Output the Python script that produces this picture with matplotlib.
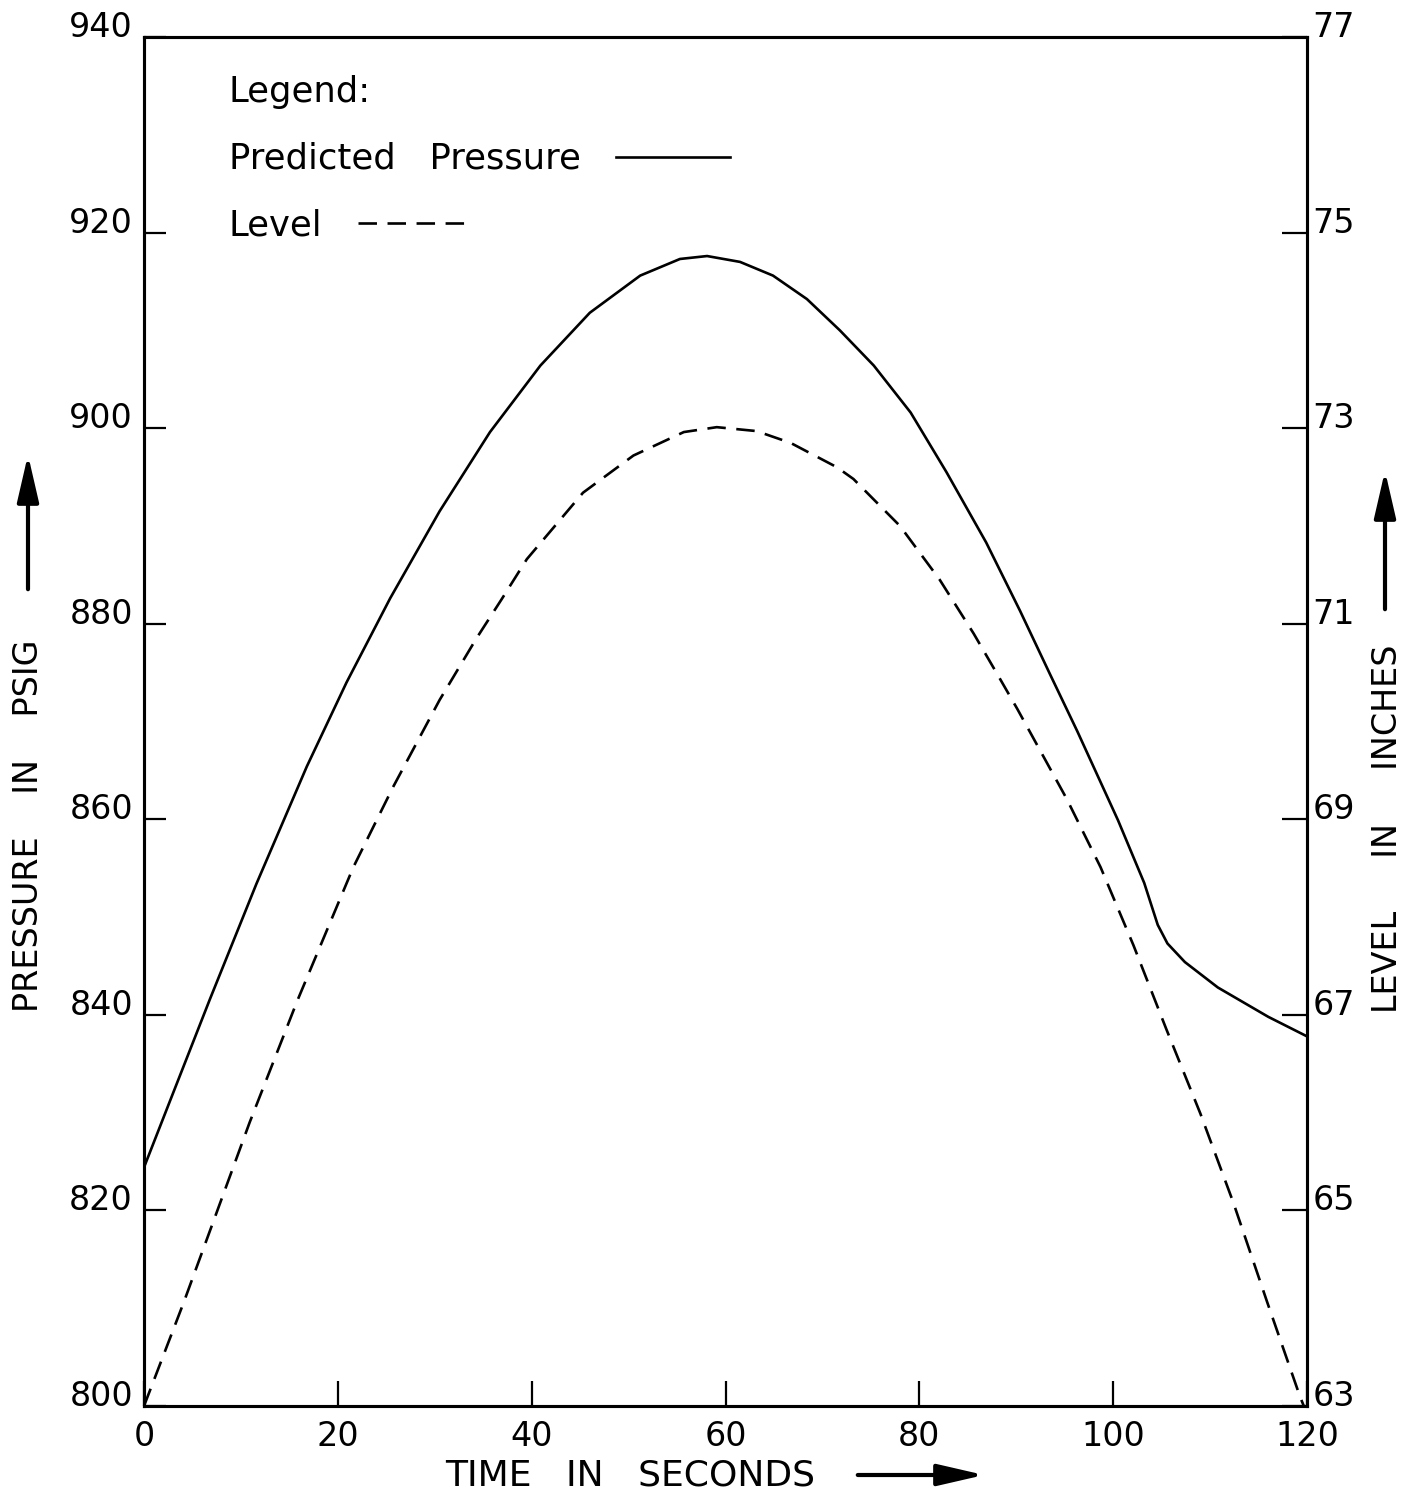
import numpy as np
import matplotlib.pyplot as plt

# predicted pressure: time [s] and psig (left axis)
t_press = [0, 3.0, 6.8, 11.6, 16.8, 20.9, 25.4, 30.5, 35.7, 40.9, 46.0, 51.2, 55.3,
           58.1, 61.5, 64.9, 68.4, 71.8, 75.3, 79.1, 82.8, 86.9, 90.4, 93.5, 96.3,
           100.5, 103.2, 104.6, 105.6, 107.4, 110.8, 116.0, 120]
pressure = [824.4, 832.0, 841.6, 853.4, 865.4, 874.0, 882.6, 891.5, 899.6, 906.4,
            911.8, 915.6, 917.3, 917.6, 917.0, 915.6, 913.2, 910.0, 906.4, 901.6,
            895.5, 888.3, 881.3, 874.8, 869.0, 859.9, 853.5, 849.2, 847.3, 845.4,
            842.8, 839.8, 837.8]

# level: time [s] and inches (right axis)
t_level = [0, 4.1, 7.5, 10.9, 15.8, 21.6, 25.7, 30.5, 34.3, 36.9, 39.5, 45.3, 50.5,
           55.7, 59.1, 63.2, 66.7, 71.5, 73.2, 78.0, 82.1, 85.6, 88.3, 90.1, 95.2,
           98.7, 102.1, 105.5, 109.0, 112.4, 115.9, 119.3, 120]
level = [63.0, 64.06, 64.98, 65.9, 67.14, 68.51, 69.33, 70.22, 70.85, 71.25, 71.66,
         72.34, 72.72, 72.96, 73.01, 72.97, 72.85, 72.6, 72.48, 72.0, 71.45, 70.9,
         70.44, 70.13, 69.21, 68.51, 67.71, 66.85, 65.99, 65.08, 64.06, 63.09, 62.92]

x_ticks = [0, 20, 40, 60, 80, 100, 120]
x_labels = ["0", "20", "40", "60", "80", "100", "120"]
p_ticks = [800, 820, 840, 860, 880, 900, 920, 940]
l_ticks = [63, 65, 67, 69, 71, 73, 75, 77]

plt.rcParams['font.family'] = ['DejaVu Sans']

W, H = 1413, 1501
fig = plt.figure(figsize=(W / 100, H / 100), dpi=100)
ax = fig.add_axes([144 / W, (H - 1406) / H, (1307 - 144) / W, (1406 - 37) / H])
ax2 = ax.twinx()

ax.plot(t_press, pressure, '-', color='black', lw=1.9, label='Predicted   Pressure')
ax2.plot(t_level, level, color='black', lw=1.9, dashes=(7, 4), label='Level')

ax.set_xlim(0, 120)
ax.set_ylim(800, 940)
ax2.set_ylim(63, 77)

ax.set_xticks(x_ticks, x_labels)
ax.set_yticks(p_ticks)
ax2.set_yticks(l_ticks)

for a in (ax, ax2):
    for s in a.spines.values():
        s.set_linewidth(2.2)
ax.tick_params(axis='x', direction='in', length=18, width=1.6, pad=10, labelsize=24)
ax.tick_params(axis='y', direction='in', length=16, width=1.6, pad=8, labelsize=24)
ax2.tick_params(axis='y', direction='in', length=18, width=1.6, pad=4, labelsize=24)
for lbl in ax.get_yticklabels() + ax2.get_yticklabels():
    lbl.set_verticalalignment('baseline')

ax.set_xlabel('TIME   IN   SECONDS', fontsize=26)
ax.xaxis.set_label_coords(0.418, -0.051)
ax.xaxis.label.set_verticalalignment('center')
ax.set_ylabel('PRESSURE    IN    PSIG', fontsize=24)
ax.yaxis.set_label_coords(-0.0997, 0.424)
ax.yaxis.label.set_verticalalignment('center')
ax2.set_ylabel('LEVEL     IN     INCHES', fontsize=24)
ax2.yaxis.set_label_coords(1.069, 0.422)
ax2.yaxis.label.set_verticalalignment('center')

# arrows next to axis titles
arrow = dict(arrowstyle='-|>,head_length=1.3,head_width=0.3', lw=3, color='black',
             mutation_scale=22)
for xy, xytext in [((987, 1475), (855, 1475)), ((28, 452), (28, 592)),
                   ((1385, 468), (1385, 612))]:
    ax.annotate('', xy=(xy[0] / W, 1 - xy[1] / H), xytext=(xytext[0] / W, 1 - xytext[1] / H),
                xycoords='figure fraction', textcoords='figure fraction',
                arrowprops=arrow, annotation_clip=False)

h1, l1 = ax.get_legend_handles_labels()
h2, l2 = ax2.get_legend_handles_labels()
leg = ax.legend(h1 + h2, l1 + l2, title='Legend:', title_fontsize=25.5, fontsize=25.5,
                loc='upper left', bbox_to_anchor=(0.073, 0.972), frameon=False,
                markerfirst=False, alignment='left', handlelength=3.2,
                handletextpad=1.0, labelspacing=0.92, borderpad=0, borderaxespad=0)
# keep the text-then-line rows flush left
for col in leg._legend_handle_box.get_children():
    col.align = 'left'

fig.savefig('out.png', dpi=100, facecolor='white')
